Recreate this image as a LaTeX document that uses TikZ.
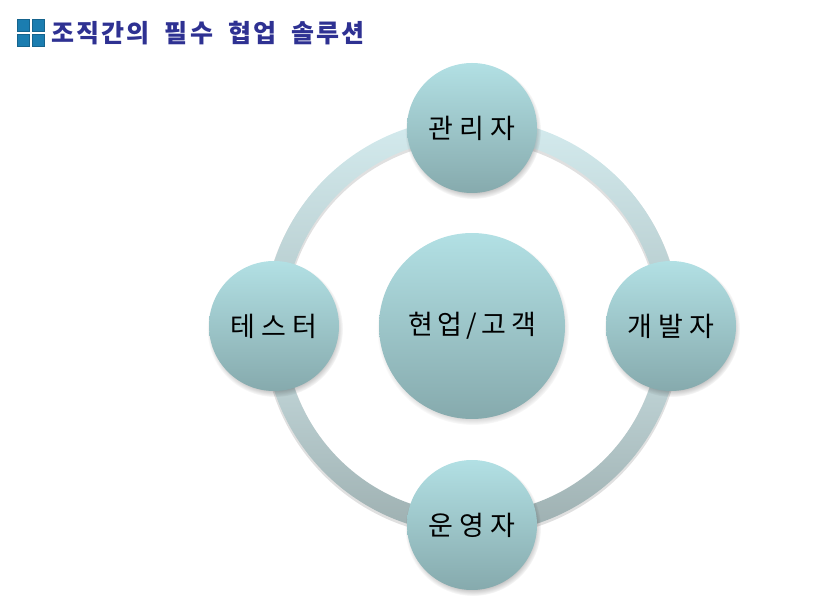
\documentclass[tikz,border=0pt]{standalone}
\usepackage{fontspec}
\newfontfamily\kr{Noto Sans CJK KR}
\usetikzlibrary{fadings}
\definecolor{circTop}{HTML}{B2E0E4}
\definecolor{circBot}{HTML}{86AAAD}
\definecolor{ringUpTop}{HTML}{D4EBEE}
\definecolor{ringUpBot}{HTML}{B2C7C9}
\definecolor{ringLoTop}{HTML}{CADFE2}
\definecolor{ringLoBot}{HTML}{9DAFB0}
\definecolor{titleCol}{HTML}{2E3192}
\definecolor{iconCol}{HTML}{1B7DB0}
\newcommand{\ls}{\kern2.2pt}
\newcommand{\ws}{\hspace{15pt}}
\newcommand{\bs}{\hspace{6pt}}
\newcommand{\cs}{\hspace{4.5pt}}
\tikzset{
  bubble/.style={circle, inner sep=0pt, minimum size=#1, top color=circTop, bottom color=circBot, font=\kr\fontsize{27}{31}\selectfont, text=black},
  iconsq/.style={fill=iconCol, draw=iconCol!80!black, line width=0.4pt},
}
\begin{document}
\begin{tikzpicture}[x=1pt,y=1pt]
\useasboundingbox (0,0) rectangle (827,602);
% title icon
\path[iconsq] (17,571) rectangle (29,583);
\path[iconsq] (32,571) rectangle (44,583);
\path[iconsq] (17,556) rectangle (29,568);
\path[iconsq] (32,556) rectangle (44,568);
\node[anchor=west, inner sep=0pt, text=titleCol, font=\kr\bfseries\fontsize{25}{28}\selectfont] (title) at (51,569) {조\ls 직\ls 간\ls 의\ws 필\ls 수\ws 협\ls 업\ws 솔\ls 루\ls 션};
% ring
\begin{scope}[shift={(472,276)}]
  \fill[black, opacity=0.12, even odd rule] (0,-2) circle (209) (0,-2) circle (187);
  \shade[top color=ringUpTop, bottom color=ringUpBot] (208,0) arc[start angle=0, end angle=180, radius=208] -- (-188,0) arc[start angle=180, end angle=0, radius=188] -- cycle;
  \shade[top color=ringLoTop, bottom color=ringLoBot] (208,0) arc[start angle=0, end angle=-180, radius=208] -- (-188,0) arc[start angle=-180, end angle=0, radius=188] -- cycle;
\end{scope}
% shadows
\foreach \x/\y/\r in {472/474/68, 472/77/68, 274/276/68, 671/276/68, 472/276/96}
  \fill[black, opacity=0.45, path fading=circle with fuzzy edge 20 percent] (\x+1,\y-3) circle (\r);
% bubbles
\node[bubble=130pt] (mgr) at (472,474) {관\bs 리\bs 자};
\node[bubble=130pt] (ops) at (472,77) {운\bs 영\bs 자};
\node[bubble=130pt] (tst) at (274,276) {테\bs 스\bs 터};
\node[bubble=130pt] (dev) at (671,276) {개\bs 발\bs 자};
\node[bubble=186pt] (core) at (472,276) {현\cs 업\cs /\cs 고\cs 객};
\end{tikzpicture}
\end{document}
